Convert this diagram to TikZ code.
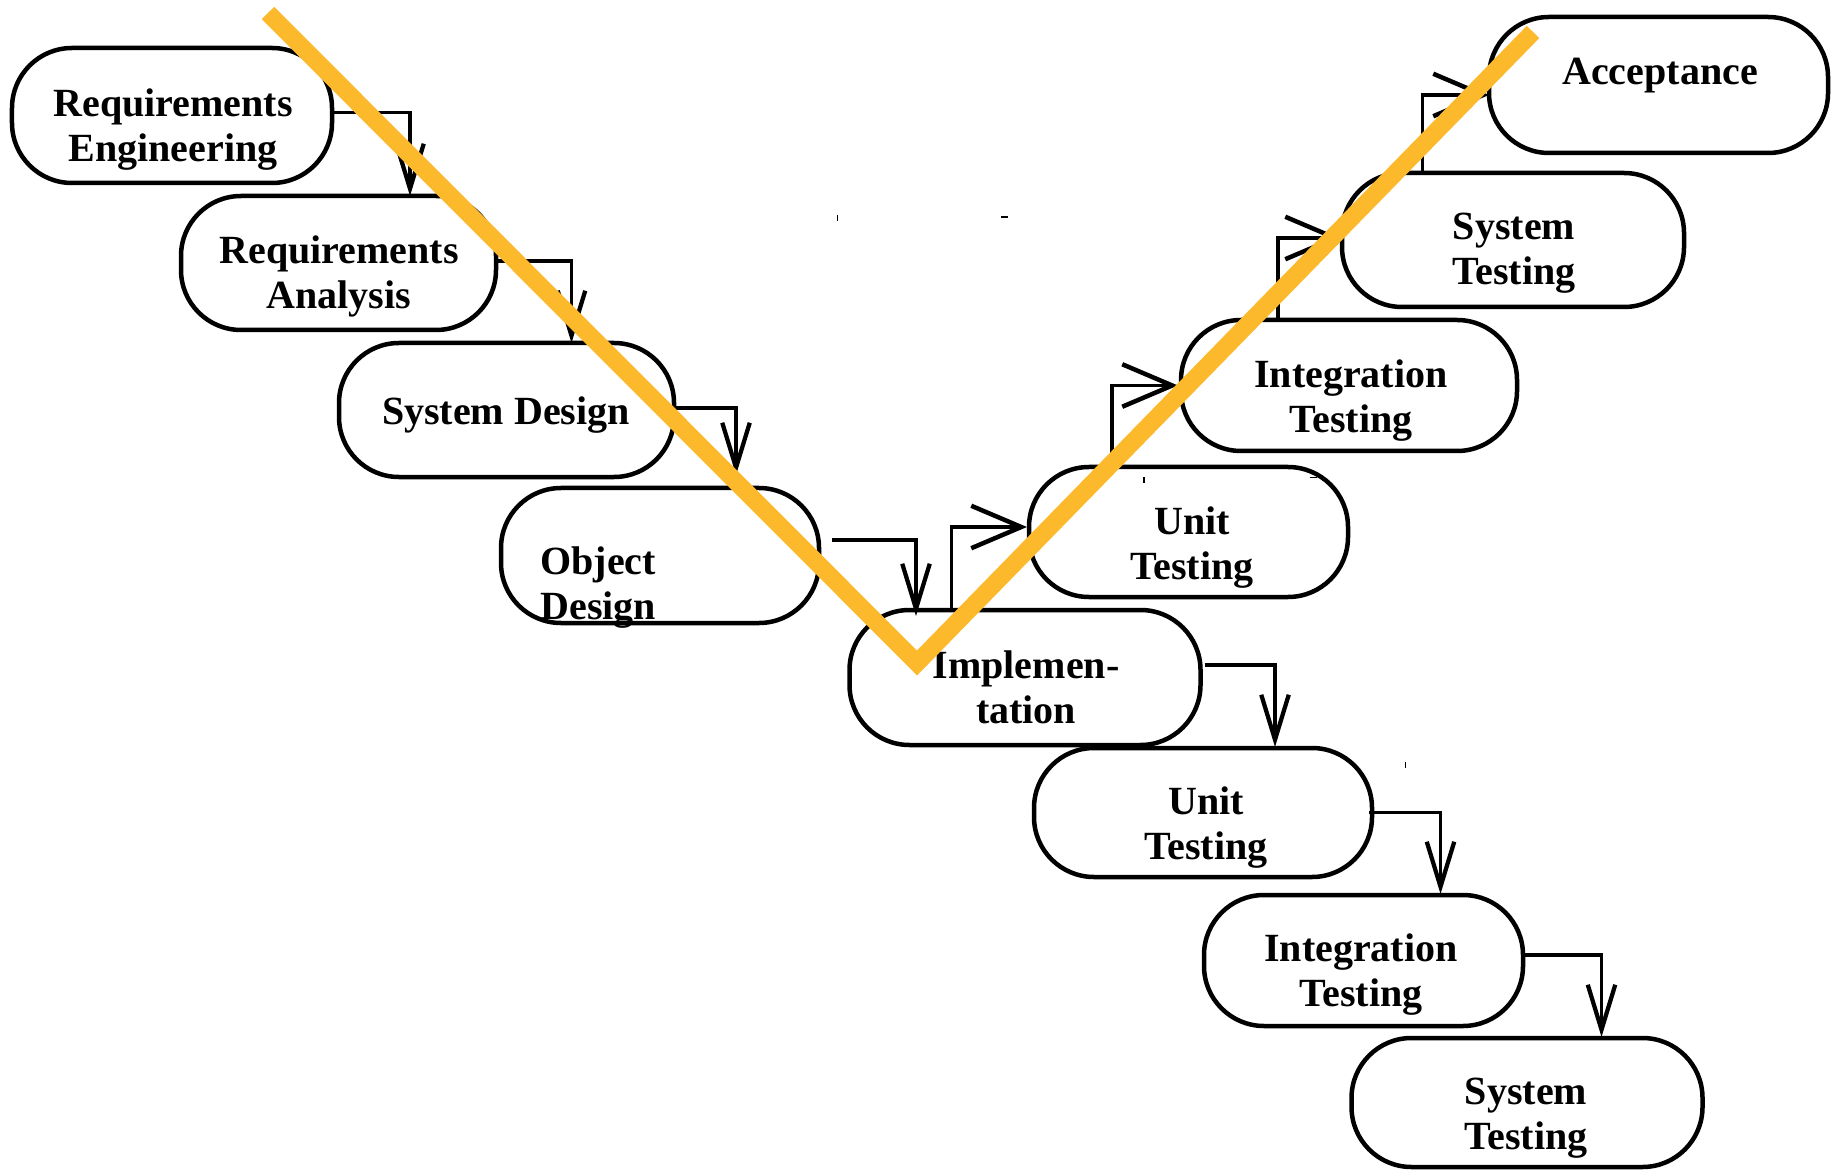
\documentclass[tikz,border=0pt]{standalone}
\usepackage{fontspec}
\setmainfont{Liberation Serif}
\usetikzlibrary{arrows.meta,calc}

\definecolor{vline}{RGB}{252,185,44}

\begin{document}
\begin{tikzpicture}[x=0.4pt,y=-0.4pt,
  phase/.style={draw=black, line width=1.8pt, rounded corners=24pt,
    inner sep=0pt, outer sep=0pt},
  lbl/.style={font=\bfseries\fontsize{16}{18}\selectfont, align=center,
    inner sep=0pt},
  down/.style={draw=black, line width=1.5pt,
    -{Straight Barb[length=18pt, width=11pt, line width=1.7pt]}},
  up/.style={draw=black, line width=1.5pt,
    -{Straight Barb[length=20pt, width=17pt, line width=1.8pt]}},
  speck/.style={draw=black, line width=0.6pt},
  vstroke/.style={draw=vline, line width=7pt, line cap=butt, line join=miter}
]
\useasboundingbox (0,0) rectangle (1832,1171);

% development phases (descending)
\node[phase, minimum width=128pt,   minimum height=54pt]   (RE)   at (172,115.5) {};
\node[phase, minimum width=126pt,   minimum height=53.6pt] (RA)   at (338.5,263) {};
\node[phase, minimum width=134pt,   minimum height=53.6pt] (SD)   at (506.5,410) {};
\node[phase, minimum width=127.2pt, minimum height=54pt]   (OD)   at (660,555.5) {};
\node[phase, minimum width=140.4pt, minimum height=54pt]   (Impl) at (1025,677.5) {};
\node[phase, minimum width=135.2pt, minimum height=51.6pt] (UTd)  at (1203,812.5) {};
\node[phase, minimum width=127.6pt, minimum height=52.4pt] (ITd)  at (1363.5,960.5) {};
\node[phase, minimum width=140.4pt, minimum height=51.6pt] (STd)  at (1527,1102.5) {};

% testing phases (ascending)
\node[phase, minimum width=127.6pt, minimum height=52pt]   (UTu)  at (1188.5,532) {};
\node[phase, minimum width=134.4pt, minimum height=52.4pt] (ITu)  at (1349,385.5) {};
\node[phase, minimum width=136.8pt, minimum height=53.6pt] (STu)  at (1513,240) {};
\node[phase, minimum width=135.6pt, minimum height=54.4pt] (Acc)  at (1658.5,85) {};

% labels
\node[lbl] (REt)   at (173,129.5)  {Requirements\\Engineering};
\node[lbl] (RAt)   at (339,276)    {Requirements\\Analysis};
\node[lbl] (SDt)   at (506,415)    {System Design};
\node[lbl, align=left, anchor=west] (ODt) at (540,588) {Object\\Design};
\node[lbl] (Implt) at (1026,687.5) {Implemen-\\tation};
\node[lbl] (UTdt)  at (1206,828)   {Unit\\Testing};
\node[lbl] (ITdt)  at (1361,975)   {Integration\\Testing};
\node[lbl] (STdt)  at (1526,1118.5){System\\Testing};
\node[lbl] (UTut)  at (1192,547.5) {Unit\\Testing};
\node[lbl] (ITut)  at (1351,400.5) {Integration\\Testing};
\node[lbl] (STut)  at (1514,253.5) {System\\Testing};
\node[lbl] (Acct)  at (1660,76)    {Acceptance};

% downward hand-offs
\draw[down] ($(RE.east)+(0,-3)$)     -| ($(RA.north)+(71.5,0)$);
\draw[down] ($(RA.east)+(0,-2.3)$)   -| ($(SD.north)+(65,0)$);
\draw[down] ($(SD.east)+(0,-2)$)     -| ($(OD.north)+(76,-13)$);
\draw[down] ($(OD.east)+(13,-15.5)$) -| ($(Impl.north)+(-109,6)$);
\draw[down] ($(Impl.east)+(4,-12.5)$)-| ($(UTd.north)+(72,-1)$);
\draw[down] ($(UTd.east)+(-3,0)$)    -| ($(ITd.north)+(77,-1)$);
\draw[down] ($(ITd.east)+(0,-5.5)$)  -| ($(STd.north)+(74.5,-1)$);

% upward hand-offs
\draw[up] ($(Impl.north)+(-73.5,0)$) |- ($(UTu.west)+(-2,-5)$);
\draw[up] ($(UTu.north)+(-76.5,0)$)  |- ($(ITu.west)+(-3,0)$);
\draw[up] ($(ITu.north)+(-71,0)$)    |- ($(STu.west)+(-1,-2)$);
\draw[up] ($(STu.north)+(-90.5,0)$)  |- ($(Acc.west)+(0,10)$);

% small stray marks
\draw[speck] (837.5,215) -- (837.5,221);
\draw[speck] (1001,217) -- (1008,217);
\draw[speck] (1144,477) -- (1144,483);
\draw[speck] (1310,477.5) -- (1317,477.5);
\draw[speck] (1405.5,762) -- (1405.5,768);

% the V overlay
\coordinate (vL) at (268,13);
\coordinate (vB) at (917,663);
\coordinate (vR) at (1533,32);
\draw[vstroke] (vL) -- (vB) -- (vR);
\end{tikzpicture}
\end{document}
